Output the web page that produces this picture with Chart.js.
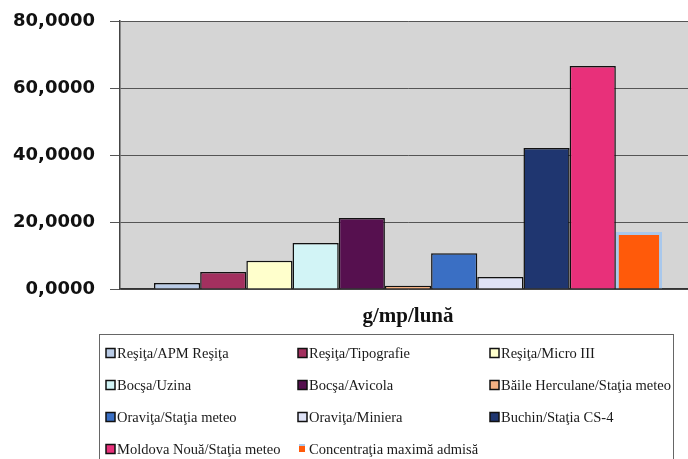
<!DOCTYPE html>
<html>
<head>
<meta charset="utf-8">
<script src="https://cdn.jsdelivr.net/npm/chart.js@4/dist/chart.umd.min.js"></script>
<style>
    html, body { margin: 0; padding: 0; background: #fff; overflow: hidden; }
    #wrap { width: 700px; height: 459px; }
</style>
</head>
<body>
<div id="wrap"><canvas id="root" width="700" height="459"></canvas></div>
<script>
const categories = ['g/mp/lună']

const stations = [
    'Reşiţa/APM Reşiţa', 'Reşiţa/Tipografie', 'Reşiţa/Micro III',
    'Bocşa/Uzina', 'Bocşa/Avicola', 'Băile Herculane/Staţia meteo',
    'Oraviţa/Staţia meteo', 'Oraviţa/Miniera', 'Buchin/Staţia CS-4',
    'Moldova Nouă/Staţia meteo', 'Concentraţia maximă admisă'
]

const values = [1.8, 5.1, 8.4, 13.7, 21.2, 1.0, 10.7, 3.6, 42.1, 66.6, 17.0]

const yTicks = [0, 20, 40, 60, 80]

const fills = ['#b9cbe6', '#a3305f', '#ffffcc', '#d2f4f6', '#56104f', '#f4b183',
    '#3a6fc4', '#dfe3f7', '#1f3670', '#e8307a', '#ff5a0a']

// light blue outline only on the last bar
const borders = fills.map((c, i) => i === fills.length - 1 ? '#a9c8ec' : '#111111')

const datasets = stations.map((name, i) => ({
    label: name,
    data: [values[i]],
    backgroundColor: fills[i],
    borderColor: borders[i],
    borderWidth: i === fills.length - 1 ? 3 : 1.5,
    categoryPercentage: 0.882,
    barPercentage: 1
}))

// grey plot background
const plotBg = {
    id: 'plotBg',
    beforeDraw(chart) {
        const a = chart.chartArea
        const ctx = chart.ctx
        ctx.save()
        ctx.fillStyle = '#d5d5d5'
        ctx.fillRect(a.left, a.top, a.right - a.left, a.bottom - a.top)
        ctx.restore()
    }
}

// boxed legend, 3 columns
const boxLegend = {
    id: 'boxLegend',
    afterDraw(chart) {
        const ctx = chart.ctx
        ctx.save()
        ctx.strokeStyle = '#666'
        ctx.lineWidth = 1
        ctx.strokeRect(99.5, 334.5, 574, 140)
        ctx.font = '14.5px "Liberation Serif"'
        ctx.textBaseline = 'middle'
        chart.data.datasets.forEach((ds, i) => {
            const x = 106 + (i % 3) * 192
            const y = 353 + Math.floor(i / 3) * 32
            const last = i === chart.data.datasets.length - 1
            if (last) {
                ctx.fillStyle = ds.backgroundColor
                ctx.fillRect(x + 1, y - 3, 6, 6)
                ctx.fillStyle = ds.borderColor
                ctx.fillRect(x + 1, y - 5, 6, 2)
            } else {
                ctx.fillStyle = ds.backgroundColor
                ctx.fillRect(x, y - 4.5, 9, 9)
                ctx.strokeStyle = '#111'
                ctx.lineWidth = 1.5
                ctx.strokeRect(x, y - 4.5, 9, 9)
            }
            ctx.fillStyle = '#1a1a1a'
            ctx.fillText(ds.label, x + 11, y + 1)
        })
        ctx.restore()
    }
}

let ctx = document.getElementById('root').getContext('2d')

let config = {
    type: 'bar',
    data: {
        labels: categories,
        datasets: datasets
    },
    options: {
        responsive: false,
        animation: false,
        layout: {
            padding: { left: 0, top: 21, right: 4, bottom: 126 }
        },
        plugins: {
            legend: { display: false },
            tooltip: { enabled: false }
        },
        scales: {
            x: {
                grid: { display: false },
                border: { display: true, color: '#333', width: 1.5 },
                ticks: { display: false },
                title: {
                    display: true,
                    text: categories[0],
                    color: '#111',
                    font: { family: 'Liberation Serif', size: 21, weight: 'bold' },
                    padding: { top: 14, bottom: 4 }
                },
                afterFit(scale) { scale.height = 44 }
            },
            y: {
                min: 0,
                max: 80,
                afterBuildTicks(scale) {
                    scale.ticks = yTicks.map(v => ({ value: v }))
                },
                afterFit(scale) {
                    scale.width = 120
                    scale.paddingTop = 0
                    scale.paddingBottom = 0
                },
                grid: {
                    color: '#555',
                    lineWidth: 1,
                    tickLength: 10
                },
                border: { display: true, color: '#444', width: 1.5 },
                ticks: {
                    padding: 15,
                    color: '#111',
                    font: { family: 'DejaVu Sans', size: 18, weight: 'bold' },
                    callback: v => v.toFixed(4).replace('.', ',')
                }
            }
        }
    },
    plugins: [plotBg, boxLegend]
}

let myChart = new Chart(ctx, config)
</script>
</body>
</html>
